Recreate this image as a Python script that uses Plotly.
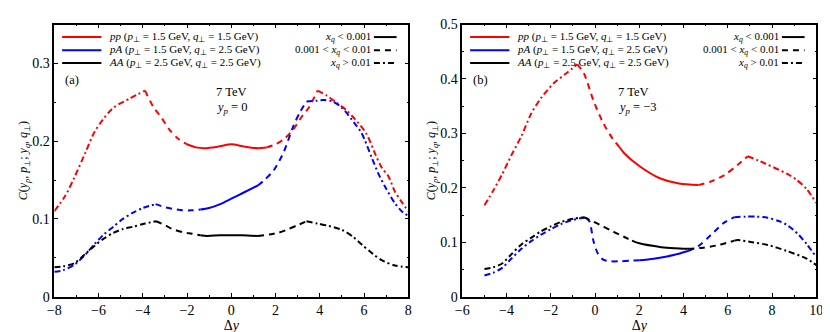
import plotly.graph_objects as go

# ---------------- Panel (a): 7 TeV, y_p = 0 ----------------
a_pp_x = [-8, -7.5, -7.1, -6.6, -6.2, -5.8, -5.33, -4.58, -3.9,
          -3.5, -3.2, -2.8, -2.4, -2.0,
          -1.6, -1.2, -0.6, 0, 0.6, 1.2, 1.6,
          2.0, 2.4, 2.8, 3.2, 3.5, 3.9,
          4.3, 4.73, 5.2, 5.6, 6.1, 6.53, 6.8, 7.1, 7.4, 7.7, 8]
a_pp_y = [0.110, 0.130, 0.153, 0.185, 0.211, 0.228, 0.243, 0.255, 0.265,
          0.243, 0.232, 0.215, 0.203, 0.196,
          0.192, 0.191, 0.193, 0.196, 0.193, 0.191, 0.192,
          0.196, 0.203, 0.215, 0.232, 0.243, 0.265,
          0.259, 0.250, 0.240, 0.228, 0.210, 0.182, 0.166, 0.155, 0.135, 0.122, 0.110]
a_pp_r = ["hi"] * 9 + ["mid"] * 5 + ["lo"] * 7 + ["mid"] * 6 + ["hi"] * 11

a_pA_x = [-8, -7.6, -7.1, -6.6, -6.2, -5.8, -5.33, -4.9, -4.44, -4.0, -3.42,
          -3.0, -2.67, -2.2, -1.78, -1.4,
          -1.0, -0.5, 0, 0.5, 1.2,
          1.5, 1.93, 2.37, 2.8, 3.1, 3.4,
          3.86, 4.2, 4.58, 5.0, 5.6, 5.9, 6.36, 6.67, 6.96, 7.4, 7.7, 8]
a_pA_y = [0.032, 0.034, 0.041, 0.054, 0.067, 0.079, 0.090, 0.100, 0.108, 0.114, 0.119,
          0.115, 0.113, 0.111, 0.111, 0.112,
          0.114, 0.119, 0.126, 0.133, 0.143,
          0.150, 0.163, 0.186, 0.219, 0.237, 0.251,
          0.252, 0.253, 0.251, 0.243, 0.222, 0.210, 0.178, 0.157, 0.141, 0.120, 0.110, 0.104]
a_pA_r = ["hi"] * 11 + ["mid"] * 5 + ["lo"] * 5 + ["mid"] * 6 + ["hi"] * 12

a_AA_x = [-8, -7.6, -7.1, -6.6, -6.2, -5.8, -5.33, -4.9, -4.44, -3.9, -3.4,
          -3.0, -2.67, -2.2, -1.78, -1.4,
          -1.1, -0.5, 0, 0.5, 1.2,
          1.73, 2.1, 2.5, 3.0, 3.4,
          3.9, 4.4, 5.0, 5.5, 5.9, 6.4, 6.8, 7.4, 8]
a_AA_y = [0.038, 0.039, 0.043, 0.055, 0.065, 0.074, 0.082, 0.087, 0.090, 0.094, 0.097,
          0.092, 0.087, 0.083, 0.081, 0.079,
          0.078, 0.079, 0.079, 0.079, 0.078,
          0.080, 0.082, 0.086, 0.092, 0.097,
          0.094, 0.091, 0.086, 0.077, 0.067, 0.055, 0.047, 0.040, 0.038]
a_AA_r = ["hi"] * 11 + ["mid"] * 5 + ["lo"] * 5 + ["mid"] * 5 + ["hi"] * 9

# ---------------- Panel (b): 7 TeV, y_p = -3 ----------------
b_pp_x = [-5, -4.6, -4.2, -3.78, -3.33, -2.89, -2.44, -1.87, -1.25, -0.8,
          -0.5, -0.07, 0.37, 0.8, 1.1,
          1.33, 2.0, 2.9, 3.8, 4.67,
          5.2, 5.87, 6.44, 6.9,
          7.4, 7.78, 8.67, 9.1, 9.56, 10]
b_pp_y = [0.168, 0.195, 0.225, 0.260, 0.295, 0.336, 0.365, 0.392, 0.412, 0.427,
          0.410, 0.360, 0.319, 0.290, 0.275,
          0.263, 0.240, 0.218, 0.208, 0.205,
          0.211, 0.224, 0.242, 0.258,
          0.250, 0.243, 0.226, 0.215, 0.198, 0.172]
b_pp_r = ["hi"] * 10 + ["mid"] * 5 + ["lo"] * 5 + ["mid"] * 4 + ["hi"] * 6

b_pA_x = [-5, -4.6, -4.2, -3.78, -3.33, -2.89, -2.44, -2.0, -1.56, -1.1, -0.67, -0.4,
          -0.25, -0.07, 0.13, 0.37, 0.7, 1.1, 1.6, 2.0,
          2.3, 3.0, 3.6, 4.2,
          4.67, 5.25, 5.87, 6.3,
          6.8, 7.3, 7.8, 8.3, 8.67, 9.2, 9.56, 10]
b_pA_y = [0.039, 0.044, 0.053, 0.070, 0.088, 0.102, 0.114, 0.124, 0.133, 0.140, 0.144, 0.145,
          0.138, 0.102, 0.079, 0.068, 0.065, 0.065, 0.066, 0.067,
          0.068, 0.072, 0.077, 0.084,
          0.093, 0.114, 0.137, 0.146,
          0.147, 0.147, 0.145, 0.139, 0.132, 0.114, 0.097, 0.073]
b_pA_r = ["hi"] * 12 + ["mid"] * 8 + ["lo"] * 4 + ["mid"] * 4 + ["hi"] * 8

b_AA_x = [-5, -4.6, -4.2, -3.78, -3.33, -2.89, -2.44, -2.0, -1.56, -1.0, -0.5,
          0.22, 0.7, 1.1, 1.67,
          2.0, 3.0, 3.6, 4.2,
          4.9, 5.6, 6.3,
          6.44, 7.1, 7.8, 8.67, 9.56, 10]
b_AA_y = [0.051, 0.054, 0.061, 0.078, 0.096, 0.108, 0.120, 0.129, 0.137, 0.143, 0.146,
          0.132, 0.122, 0.114, 0.103,
          0.098, 0.091, 0.089, 0.088,
          0.090, 0.095, 0.103,
          0.104, 0.100, 0.095, 0.084, 0.070, 0.058]
b_AA_r = ["hi"] * 11 + ["mid"] * 4 + ["lo"] * 4 + ["mid"] * 3 + ["hi"] * 6

series_names = [
    "<i>pp</i> (<i>p</i><sub>⊥</sub> = 1.5 GeV, <i>q</i><sub>⊥</sub> = 1.5 GeV)",
    "<i>pA</i> (<i>p</i><sub>⊥</sub> = 1.5 GeV, <i>q</i><sub>⊥</sub> = 2.5 GeV)",
    "<i>AA</i> (<i>p</i><sub>⊥</sub> = 2.5 GeV, <i>q</i><sub>⊥</sub> = 2.5 GeV)",
]
series_colors = ["#ff0000", "#0000ff", "#000000"]
regime_labels = ["<i>x<sub>q</sub></i> &lt; 0.001",
                 "0.001 &lt; <i>x<sub>q</sub></i> &lt; 0.01",
                 "<i>x<sub>q</sub></i> &gt; 0.01"]
regime_keys = ["lo", "mid", "hi"]
dash_of = {"lo": "solid", "mid": "6px,5px", "hi": "6px,3px,2px,3px"}

FONT = "Liberation Serif, Times New Roman, serif"
LW = 2
W, H = 830, 332


def fx(p):  # pixel x -> paper fraction
    return p / W


def fy(q):  # pixel y (from top) -> paper fraction
    return 1 - q / H


fig = go.Figure()


def add_series(xs, ys, rs, color, xa, ya, name):
    runs = []
    for x, y, r in zip(xs, ys, rs):
        if runs and runs[-1][0] == r:
            runs[-1][1].append(x)
            runs[-1][2].append(y)
        else:
            if runs:
                sx, sy = [runs[-1][1][-1]], [runs[-1][2][-1]]
            else:
                sx, sy = [], []
            runs.append([r, sx + [x], sy + [y]])
    for r, sx, sy in runs:
        fig.add_trace(go.Scatter(
            x=sx, y=sy, mode="lines", xaxis=xa, yaxis=ya, showlegend=False, name=name,
            line=dict(color=color, width=LW, dash=dash_of[r], shape="spline", smoothing=0.8)))


panel_a = [(a_pp_x, a_pp_y, a_pp_r), (a_pA_x, a_pA_y, a_pA_r), (a_AA_x, a_AA_y, a_AA_r)]
panel_b = [(b_pp_x, b_pp_y, b_pp_r), (b_pA_x, b_pA_y, b_pA_r), (b_AA_x, b_AA_y, b_AA_r)]
for (xs, ys, rs), c, n in zip(panel_a, series_colors, series_names):
    add_series(xs, ys, rs, c, "x", "y", n)
for (xs, ys, rs), c, n in zip(panel_b, series_colors, series_names):
    add_series(xs, ys, rs, c, "x2", "y2", n)

LEG_FONT = dict(family=FONT, size=11, color="black")
row_y = [0.954, 0.906, 0.859]
for xref in ["x domain", "x2 domain"]:
    yref = xref.replace("x", "y")
    # series key (top-left)
    for yy, name, c in zip(row_y, series_names, series_colors):
        fig.add_shape(type="line", xref=xref, yref=yref, x0=0.022, x1=0.133, y0=yy, y1=yy,
                      line=dict(color=c, width=LW))
        fig.add_annotation(xref=xref, yref=yref, x=0.148, y=yy, text=name, showarrow=False,
                           xanchor="left", yanchor="middle", font=LEG_FONT)
    # line style key (top-right)
    for yy, lab, key in zip(row_y, regime_labels, regime_keys):
        fig.add_annotation(xref=xref, yref=yref, x=0.900, y=yy, text=lab, showarrow=False,
                           xanchor="right", yanchor="middle", font=LEG_FONT)
        fig.add_shape(type="line", xref=xref, yref=yref, x0=0.903, x1=0.967, y0=yy, y1=yy,
                      line=dict(color="black", width=LW, dash=dash_of[key]))

# panel text
texts = [("x domain", 0.025, 0.796, "(a)"), ("x domain", 0.45, 0.751, "7 TeV"),
         ("x domain", 0.45, 0.695, "<i>y<sub>p</sub></i> = 0"),
         ("x2 domain", 0.025, 0.796, "(b)"), ("x2 domain", 0.435, 0.751, "7 TeV"),
         ("x2 domain", 0.435, 0.695, "<i>y<sub>p</sub></i> = −3")]
for xref, x, y, t in texts:
    fig.add_annotation(xref=xref, yref=xref.replace("x", "y"), x=x, y=y, text=t, showarrow=False,
                       xanchor="left", yanchor="middle", font=dict(family=FONT, size=12.5, color="black"))

axis_common = dict(showline=True, linecolor="black", linewidth=1.5, mirror="allticks",
                   ticks="inside", ticklen=4, tickwidth=1, tickcolor="black",
                   showgrid=False, zeroline=False,
                   tickfont=dict(family=FONT, size=14, color="black"))
minor_common = dict(ticks="inside", ticklen=2, tickwidth=1, tickcolor="black", showgrid=False)
ytitle = "<i>C</i>(<i>y<sub>p</sub></i>, <i>p</i><sub>⊥</sub>; <i>y<sub>q</sub></i>, <i>q</i><sub>⊥</sub>)"
xtitle = "Δ<i>y</i>"
ydom = [fy(295), fy(10)]

fig.update_layout(
    width=W, height=H, margin=dict(l=0, r=0, t=0, b=0),
    paper_bgcolor="white", plot_bgcolor="white", showlegend=False,
    font=dict(family=FONT, size=12, color="black"),
    xaxis=dict(domain=[fx(40), fx(400)], range=[-8, 8], dtick=2,
               title=dict(text=xtitle, standoff=2, font=dict(family=FONT, size=14)),
               minor=dict(minor_common, dtick=1), **axis_common),
    yaxis=dict(domain=ydom, range=[0, 0.35], dtick=0.1,
               title=dict(text=ytitle, standoff=2, font=dict(family=FONT, size=12)),
               minor=dict(minor_common, dtick=0.05), **axis_common),
    xaxis2=dict(domain=[fx(455), fx(815)], range=[-6, 10], dtick=2, anchor="y2",
                title=dict(text=xtitle, standoff=2, font=dict(family=FONT, size=14)),
                minor=dict(minor_common, dtick=1), **axis_common),
    yaxis2=dict(domain=ydom, range=[0, 0.5], dtick=0.1, anchor="x2",
                title=dict(text=ytitle, standoff=2, font=dict(family=FONT, size=12)),
                minor=dict(minor_common, dtick=0.05), **axis_common),
)

fig.write_html("out.html")
